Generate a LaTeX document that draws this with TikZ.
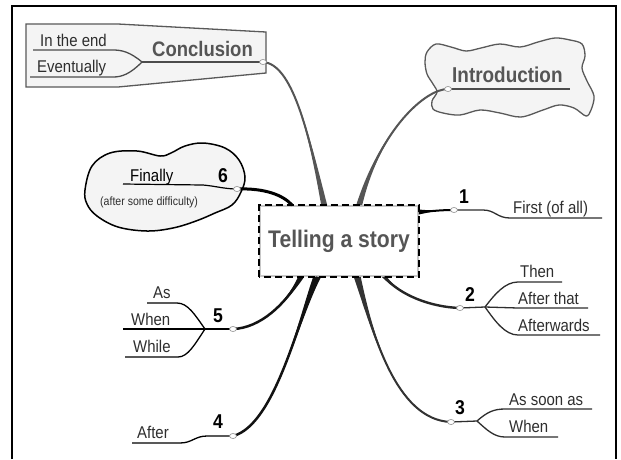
\documentclass[tikz,border=0pt]{standalone}
\usepackage{fontspec}
\setmainfont[FakeStretch=0.88]{Liberation Sans}
\usetikzlibrary{calc,shapes.geometric}

\definecolor{topicgray}{HTML}{555555}
\definecolor{labelgray}{HTML}{2E2E2E}
\definecolor{shapefill}{HTML}{F4F4F4}

% tapered branch: colour, start, control 1, control 2, end, half-width offset at start
\newcommand\taperlink[6]{%
  \fill[#1] ($(#2)-#6$) .. controls (#3) and (#4) .. (#5)
            .. controls (#4) and (#3) .. ($(#2)+#6$) -- cycle;}

\tikzset{
  lbl/.style={anchor=base west, inner sep=0pt, text=labelgray, font=\fontsize{17}{17}\selectfont},
  num/.style={anchor=base west, inner sep=0pt, font=\bfseries\fontsize{20}{20}\selectfont},
  topic/.style={anchor=base west, inner sep=0pt, text=topicgray, font=\bfseries\fontsize{21.5}{21.5}\selectfont},
  twig/.style={draw=labelgray, line width=1.3pt},
  joint/.style={ellipse, minimum width=7pt, minimum height=5pt, inner sep=0pt,
                fill=white, draw=black!45, line width=0.6pt},
  centre/.style={draw=black!22, line width=1.6pt, minimum width=158pt, minimum height=70pt,
                 inner sep=0pt, fill=white, text=topicgray,
                 font=\bfseries\fontsize{24}{24}\selectfont},
}

\begin{document}
\begin{tikzpicture}[x=1pt,y=-1pt]
\useasboundingbox (0,0) rectangle (621,459);
\fill[white] (0,0) rectangle (621,459);

% page frame (open at the bottom)
\draw[line width=2pt] (12,459) -- (12,6) -- (615.5,6) -- (615.5,459);

% ---------- Conclusion panel ----------
\draw[fill=shapefill, draw=black!65, line width=1.3pt]
  (26,24) -- (118,24) -- (266,32) -- (266,73) -- (118,87) -- (26,87) -- cycle;
\node[topic, font=\bfseries\fontsize{21}{21}\selectfont] (concl) at (152,56) {Conclusion};
\coordinate (jc) at (263,62);
\coordinate (forkc) at (142,62);
\draw[draw=black!70, line width=1.3pt] (jc) -- (forkc);
\draw[draw=black!70, line width=1.3pt] (forkc) .. controls (130,52) and (122,50) .. (113,50) -- (33,50);
\draw[draw=black!70, line width=1.3pt] (forkc) .. controls (130,74) and (122,77) .. (113,77) -- (30,77);
\node[lbl] (inend) at (40,46) {In the end};
\node[lbl] (event) at (37,72) {Eventually};

% ---------- Introduction cloud ----------
\draw[fill=shapefill, draw=black!65, line width=1.3pt]
  plot[smooth cycle, tension=0.55] coordinates {
    (427,52) (436,44) (451,47) (466,51) (481,48) (500,44) (520,47) (538,42)
    (555,38) (570,40) (582,44) (585,56) (582,68) (587,81) (594,96) (591,110)
    (586,116) (574,108) (559,105) (543,110) (521,117) (500,113) (480,110)
    (460,115) (443,113) (433,109) (432,101) (437,92) (433,84) (427,74) (425,62)};
\node[topic] (intro) at (452,82) {Introduction};
\coordinate (ji) at (448,89);
\draw[draw=black!70, line width=1.3pt] (ji) -- (570,89);

% ---------- "Finally" cloud ----------
\draw[fill=shapefill, draw=black, line width=1.5pt]
  plot[smooth cycle, tension=0.6] coordinates {
    (85,190) (92,166) (110,153) (137,151) (160,156) (171,153) (185,146)
    (203,143) (225,148) (239,160) (245,177) (241,192) (232,205) (215,213)
    (196,221) (173,228) (147,231) (118,227) (97,216) (87,204)};
\coordinate (j6) at (237,189);
\draw[draw=black, line width=1.2pt] (123,184) -- (203,185) .. controls (215,186) and (225,189) .. (j6);
\node[lbl, text=black] (fin) at (130,181) {Finally};
\node[num] (n6) at (218,182) {6};
\node[anchor=base west, inner sep=0pt, text=labelgray, font=\fontsize{12}{12}\selectfont]
  (diff) at (100,205) {(after some difficulty)};

% ---------- central topic ----------
\node[centre] (box) at (339,241) {Telling a story};

% attachment points on the central box
\coordinate (sc) at ([xshift=65pt]box.north west);
\coordinate (si) at ([xshift=100pt]box.north west);
\coordinate (s6) at ([xshift=33pt]box.north west);
\coordinate (s1) at ([yshift=29pt]box.east);
\coordinate (s2) at ([xshift=125pt]box.south west);
\coordinate (s3) at ([xshift=98pt]box.south west);
\coordinate (s4) at ([xshift=58pt]box.south west);
\coordinate (s5) at ([xshift=42pt]box.south west);

% junction points of the numbered branches
\coordinate (j1) at (454,210);
\coordinate (j2) at (460,308);
\coordinate (j3) at (451,422);
\coordinate (j4) at (233,436);
\coordinate (j5) at (233,329);

% ---------- main branches ----------
\taperlink{topicgray}{sc}{308,130}{292,64}{jc}{(3,0)}
\draw[topicgray, line width=2pt] (sc) .. controls (308,130) and (292,64) .. (jc);

\taperlink{topicgray}{si}{380,130}{425,89}{ji}{(3,0)}
\draw[topicgray, line width=2pt] (si) .. controls (380,130) and (425,89) .. (ji);

\draw[black, line width=3pt] (s6) .. controls (283,195) and (265,188) .. (j6);

\taperlink{black}{s1}{435,211}{440,210}{j1}{(0,2.5)}
\draw[black, line width=2pt] (s1) .. controls (435,211) and (440,210) .. (j1);

\taperlink{black!85}{s2}{400,295}{430,307}{j2}{(2.5,0)}
\draw[black!85, line width=2.4pt] (s2) .. controls (400,295) and (430,307) .. (j2);

\taperlink{black!80}{s3}{372,330}{395,420}{j3}{(3.5,0)}
\draw[black!80, line width=2pt] (s3) .. controls (372,330) and (395,420) .. (j3);

\taperlink{black!93}{s4}{298,320}{275,425}{j4}{(4,0)}
\draw[black!93, line width=2.5pt] (s4) .. controls (298,320) and (275,425) .. (j4);

\taperlink{black!93}{s5}{285,305}{260,328}{j5}{(3,0)}
\draw[black!93, line width=2.5pt] (s5) .. controls (285,305) and (260,328) .. (j5);

% dashes over the light border of the central topic
\draw[black, line width=1.6pt, dash pattern=on 7pt off 4pt]
  (box.south west) rectangle (box.north east);

% ---------- branch 1 ----------
\draw[twig] (j1) -- (483,210) .. controls (495,210) and (497,218) .. (510,218) -- (602,218);
\node[num] (n1) at (459,203) {1};
\node[lbl] (first) at (513,213) {First (of all)};

% ---------- branch 2 ----------
\coordinate (f2) at (485,307);
\draw[twig] (j2) -- (f2);
\draw[twig] (f2) .. controls (495,294) and (505,282) .. (518,282) -- (562,282);
\draw[twig] (f2) -- (518,308) -- (588,308);
\draw[twig] (f2) .. controls (495,321) and (505,335) .. (518,335) -- (600,335);
\node[num] (n2) at (465,301) {2};
\node[lbl] (then) at (520,277) {Then};
\node[lbl] (afterthat) at (518,304) {After that};
\node[lbl] (afterwards) at (518,331) {Afterwards};

% ---------- branch 3 ----------
\coordinate (f3) at (477,421);
\draw[twig] (j3) -- (f3);
\draw[twig] (f3) .. controls (487,412) and (494,409) .. (505,409) -- (592,409);
\draw[twig] (f3) .. controls (487,430) and (494,437) .. (505,437) -- (558,437);
\node[num] (n3) at (455,414) {3};
\node[lbl] (assoon) at (509,405) {As soon as};
\node[lbl] (when3) at (509,432) {When};

% ---------- branch 4 ----------
\draw[twig, draw=black] (j4) -- (207,436) .. controls (195,436) and (192,443) .. (180,443) -- (132,443);
\node[num] (n4) at (213,428) {4};
\node[lbl] (after) at (137,438) {After};

% ---------- branch 5 ----------
\coordinate (f5) at (205,329);
\draw[twig, draw=black] (j5) -- (f5);
\draw[twig, draw=black] (f5) .. controls (195,315) and (188,303) .. (177,303) -- (147,303);
\draw[twig, draw=black] (f5) -- (123,329);
\draw[twig, draw=black] (f5) .. controls (195,344) and (188,357) .. (178,357) -- (125,357);
\node[num] (n5) at (213,322) {5};
\node[lbl] (as5) at (153,298) {As};
\node[lbl] (when5) at (131,325) {When};
\node[lbl] (while5) at (133,352) {While};

% junction markers
\foreach \j in {jc,ji,j1,j2,j3,j4,j5,j6}
  \node[joint] at (\j) {};
\end{tikzpicture}
\end{document}
